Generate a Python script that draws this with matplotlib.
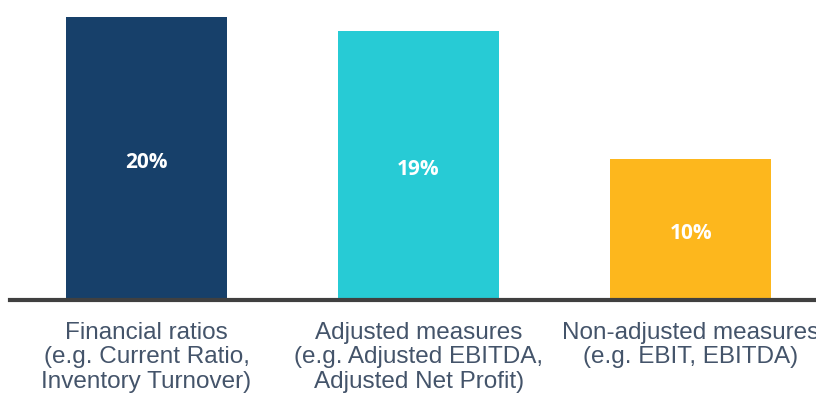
import matplotlib.pyplot as plt
import numpy as np

categories = [
    "Financial ratios\n(e.g. Current Ratio,\nInventory Turnover)",
    "Adjusted measures\n(e.g. Adjusted EBITDA,\nAdjusted Net Profit)",
    "Non-adjusted measures\n(e.g. EBIT, EBITDA)",
]
values = [20, 19, 10]
colors = ["#17406A", "#27CBD5", "#FDB71D"]

fig = plt.figure(figsize=(8.16, 3.94), dpi=100)
ax = fig.add_axes([10 / 816, 94 / 394, 806 / 816, 283 / 394])

x = np.arange(len(values))
bars = ax.bar(x, values, width=0.592, color=colors)

# value labels in the middle of each bar
for b, v in zip(bars, values):
    ax.text(b.get_x() + b.get_width() / 2, v / 2 - 0.3, f"{v}%",
            ha="center", va="center", color="white",
            fontsize=15, fontweight="bold", family="Open Sans")

ax.set_xlim(-0.502, 2.461)
ax.set_ylim(0, 20)
ax.set_yticks([])
ax.set_xticks(x)
ax.set_xticklabels(categories, fontsize=17.5, color="#44546A",
                   family="Liberation Sans", linespacing=1.13)
ax.tick_params(axis="x", length=0, pad=16)

for s in ["top", "right", "left"]:
    ax.spines[s].set_visible(False)
ax.spines["bottom"].set_color("#404040")
ax.spines["bottom"].set_linewidth(3)

fig.savefig("out.png", dpi=100)
